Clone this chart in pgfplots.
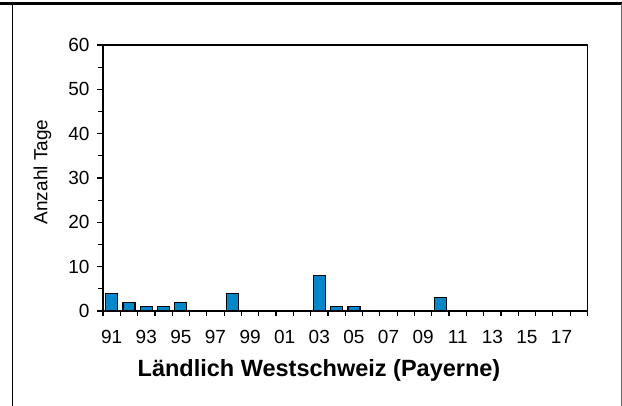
\documentclass[border=0pt]{standalone}
\usepackage{pgfplots}
\pgfplotsset{compat=1.18}
\usepackage{fontspec}
\setmainfont{Liberation Sans}
\definecolor{barblue}{HTML}{0088CC}
\begin{document}
\begin{tikzpicture}[x=1pt,y=1pt]
\useasboundingbox (0,0) rectangle (622,406);
\draw[line width=3.5pt] (0,402.3) -- (622,402.3);
\draw[line width=1.6pt] (12.3,0) -- (12.3,402.3);
\draw[line width=0.8pt, black!60] (621,0) -- (621,402.3);
\begin{axis}[
  at={(103pt,95pt)}, anchor=south west,
  scale only axis, width=484.5pt, height=266pt,
  xmin=-0.5, xmax=27.5, ymin=0, ymax=60,
  axis line style={line width=1.3pt},
  /pgf/number format/assume math mode=true,
  ytick={0,10,...,60},
  minor y tick num=1,
  xtick={0,2,...,26},
  xticklabels={91,93,95,97,99,01,03,05,07,09,11,13,15,17},
  minor xtick={-0.5,0.5,...,27.5},
  major x tick style={draw=none},
  xtick pos=bottom, ytick pos=left,
  tick align=outside,
  major tick length=6pt, minor tick length=5pt,
  tick style={line width=1.2pt, black},
  every tick label/.append style={font=\fontsize{19}{22}\selectfont},
  xticklabel style={text height=13.5pt, text depth=0pt, yshift=-9pt},
  yticklabel style={xshift=-4pt},
  ylabel={Anzahl Tage},
  ylabel style={font=\fontsize{19}{22}\selectfont, at={(axis description cs:0,0.5)}, anchor=center, yshift=60.5pt, xshift=6pt},
  clip=false,
]
\addplot[ybar, bar width=12pt, fill=barblue, draw=black, line width=1.2pt] coordinates {
(0,4) (1,2) (2,1) (3,1) (4,2) (5,0) (6,0) (7,4) (8,0) (9,0) (10,0) (11,0) (12,8) (13,1)
(14,1) (15,0) (16,0) (17,0) (18,0) (19,3) (20,0) (21,0) (22,0) (23,0) (24,0) (25,0) (26,0) (27,0)
};
\end{axis}
\node[anchor=base, font=\bfseries\fontsize{23.5}{28}\selectfont, inner sep=0pt] at (319,29.3) {Ländlich Westschweiz (Payerne)};
\end{tikzpicture}
\end{document}
